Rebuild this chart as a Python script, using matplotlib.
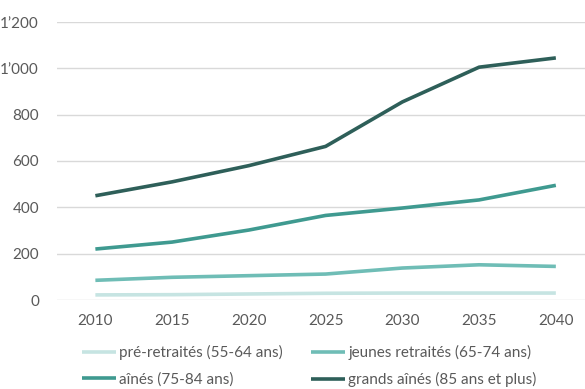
import matplotlib
matplotlib.use("Agg")
import matplotlib.pyplot as plt
from matplotlib.ticker import FuncFormatter

years = [2010, 2015, 2020, 2025, 2030, 2035, 2040]
pre_retraites = [22, 23, 26, 29, 30, 30, 30]
jeunes_retraites = [85, 98, 105, 112, 138, 152, 145]
aines = [220, 250, 302, 365, 397, 432, 495]
grands_aines = [450, 510, 580, 663, 855, 1005, 1045]

labels = ["pré-retraités (55-64 ans)", "jeunes retraités (65-74 ans)",
          "aînés (75-84 ans)", "grands aînés (85 ans et plus)"]
colors = ["#c6e4e2", "#6fbdb6", "#3f9a90", "#2e5f59"]

plt.rcParams["font.family"] = ["Lato", "DejaVu Sans"]

fig = plt.figure(figsize=(5.85, 3.89), dpi=100)
ax = fig.add_axes([57 / 585, 1 - 300 / 389, 1 - 57 / 585, 278 / 389])

series = [pre_retraites, jeunes_retraites, aines, grands_aines]
lines = []
for vals, lab, col in zip(series, labels, colors):
    ln, = ax.plot(years, vals, color=col, lw=2.6, label=lab,
                  solid_capstyle="butt")
    lines.append(ln)

ax.set_ylim(0, 1200)
ax.set_xlim(2007.5, 2041.9)
ax.set_xticks(years)
ax.set_yticks(range(0, 1201, 200))
ax.yaxis.set_major_formatter(
    FuncFormatter(lambda v, _: f"{int(v):,}".replace(",", "\u2019")))
ax.grid(axis="y", color="#d9d9d9", lw=1.0)
ax.set_axisbelow(True)
for s in ax.spines.values():
    s.set_visible(False)
ax.tick_params(length=0, colors="#595959", labelsize=11)
ax.tick_params(axis="y", pad=13)
ax.tick_params(axis="x", pad=10)

# legend filled row by row: two entries per row
order = [0, 2, 1, 3]
ax.legend([lines[i] for i in order], [labels[i] for i in order],
          loc="upper left", bbox_to_anchor=(82 / 585, 1 - 345 / 389),
          bbox_transform=fig.transFigure, ncol=2, frameon=False,
          fontsize=11, labelcolor="#595959", handlelength=2.2,
          handletextpad=0.2, columnspacing=1.9, labelspacing=0.8,
          borderaxespad=0, borderpad=0)

fig.savefig("out.png", dpi=100)
